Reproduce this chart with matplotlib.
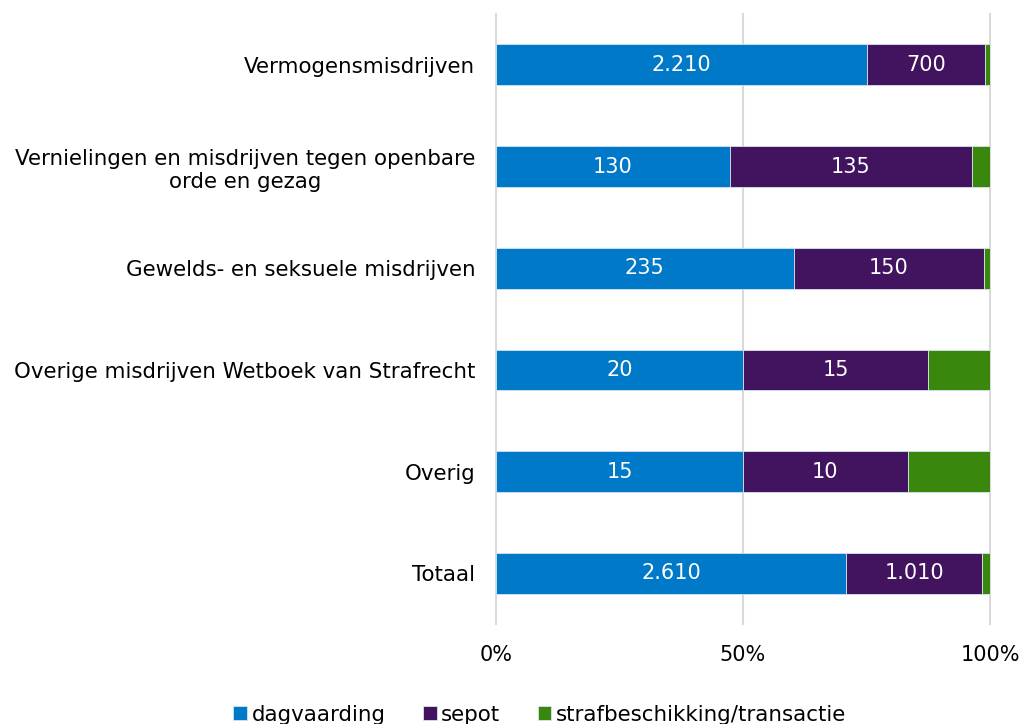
import matplotlib
matplotlib.use("Agg")
import matplotlib.pyplot as plt
import numpy as np

categories = ["Vermogensmisdrijven",
              "Vernielingen en misdrijven tegen openbare\norde en gezag",
              "Gewelds- en seksuele misdrijven",
              "Overige misdrijven Wetboek van Strafrecht",
              "Overig",
              "Totaal"]
dagvaarding = [2210, 130, 235, 20, 15, 2610]
sepot = [700, 135, 150, 15, 10, 1010]
strafbeschikking = [30, 10, 5, 5, 5, 60]
series_names = ["dagvaarding", "sepot", "strafbeschikking/transactie"]
colors = ["#0079C8", "#42145F", "#39870C"]
show_labels = [True, True, False]

plt.rcParams['font.family'] = ['DejaVu Sans']
fig = plt.figure(figsize=(10.22, 7.24), dpi=100)
ax = fig.add_axes([0.4853, 0.138, 0.4834, 0.8427])

data = np.array([dagvaarding, sepot, strafbeschikking], dtype=float)
totals = data.sum(axis=0)
pct = data / totals * 100
y = np.arange(len(categories))
left = np.zeros(len(categories))
for i, name in enumerate(series_names):
    bars = ax.barh(y, pct[i], left=left, height=0.4, color=colors[i],
                   edgecolor="#D6E4F0", linewidth=0.6, label=name, zorder=3)
    if show_labels[i]:
        for j, b in enumerate(bars):
            val = int(data[i][j])
            txt = f"{val:,}".replace(",", ".")
            ax.text(left[j] + pct[i][j] / 2, y[j], txt, ha="center", va="center",
                    color="white", fontsize=15, zorder=4)
    left += pct[i]

ax.set_ylim(len(categories) - 0.5, -0.5)
ax.set_xlim(0, 100)
ax.set_yticks(y)
ax.set_yticklabels(categories, fontsize=15.4)
ax.set_xticks([0, 50, 100])
ax.set_xticklabels(["0%", "50%", "100%"], fontsize=15)
ax.tick_params(axis="both", length=0)
ax.tick_params(axis="x", pad=15)
ax.tick_params(axis="y", pad=15)
for lab in ax.get_yticklabels():
    lab.set_horizontalalignment("right")
    lab.set_multialignment("center")
ax.xaxis.grid(True, color="#D9D9D9", linewidth=1.5, zorder=0)
for gl in ax.get_xgridlines():
    gl.set_clip_on(False)
for s in ax.spines.values():
    s.set_visible(False)

handles, labels = ax.get_legend_handles_labels()
fig.legend(handles, labels, loc="center", bbox_to_anchor=(0.528, 0.013), ncol=3,
           frameon=False, fontsize=15.4, handlelength=0.65, handleheight=0.65,
           handletextpad=0.2, columnspacing=1.75)

fig.savefig("out.png", dpi=100)
